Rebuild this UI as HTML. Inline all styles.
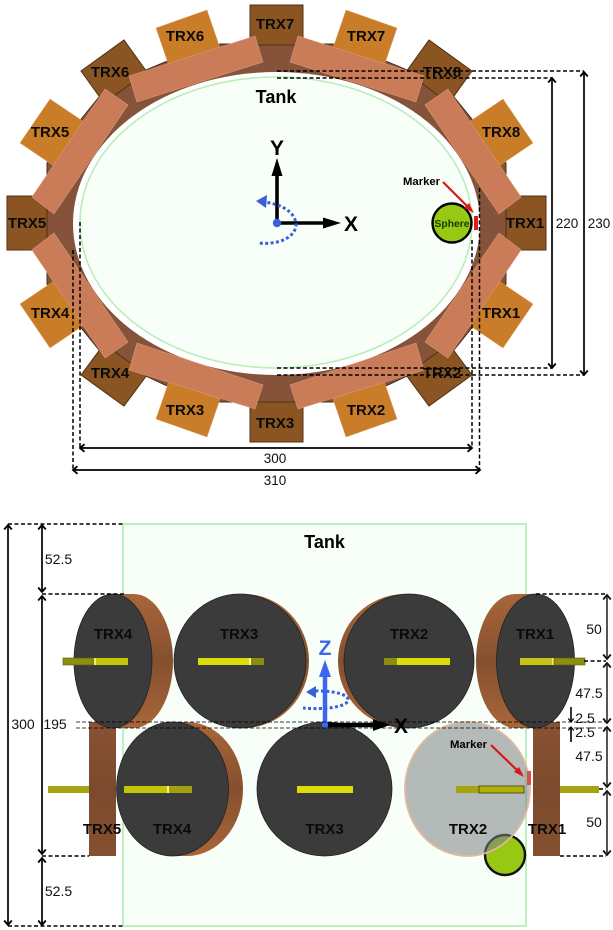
<!DOCTYPE html>
<html>
<head>
<meta charset="utf-8">
<style>
html,body{margin:0;padding:0;background:#fff;}
svg{display:block;filter:blur(.35px);}
text{font-family:"Liberation Sans",sans-serif;fill:#000;}
.l{font-weight:bold;font-size:15px;text-anchor:middle;fill:#0a0a0a;}
.d{font-size:14px;text-anchor:middle;fill:#111;}
.t{font-size:13.5px;text-anchor:middle;fill:#111;}
.dim{stroke:#000;stroke-width:1.7;fill:none;marker-start:url(#ah);marker-end:url(#ah);}
.dg{stroke:#555;stroke-width:2;fill:none;marker-start:url(#ag);marker-end:url(#ag);}
.ds{stroke:#000;stroke-width:1.5;fill:none;stroke-dasharray:4 2.5;}
.dt{stroke:#000;stroke-width:.7;fill:none;stroke-dasharray:4 2;}
.dk{fill:#8a5522;stroke:#4f3115;stroke-width:1;}
.or{fill:#c97d28;stroke:#e0a060;stroke-width:.5;}
.bar{fill:#c97c57;stroke:#d9977a;stroke-width:.6;}
.face{fill:#3b3b3b;stroke:#222;stroke-width:.8;}
</style>
</head>
<body>
<svg width="613" height="930" viewBox="0 0 613 930" xmlns="http://www.w3.org/2000/svg">
<defs>
<marker id="ah" viewBox="-9 -6 18 12" markerWidth="18" markerHeight="12" markerUnits="userSpaceOnUse" orient="auto-start-reverse" refX="0" refY="0">
<path d="M-4.5 -3.8 L0 0 L-4.500 3.8" fill="none" stroke="#000" stroke-width="1.8"/>
</marker>
<marker id="ag" viewBox="-9 -6 18 12" markerWidth="18" markerHeight="12" markerUnits="userSpaceOnUse" orient="auto-start-reverse" refX="0" refY="0">
<path d="M-4.5 -3.8 L0 0 L-4.500 3.8" fill="none" stroke="#111" stroke-width="1.8"/>
</marker>
<marker id="as" viewBox="-9 -6 18 12" markerWidth="14" markerHeight="10" markerUnits="userSpaceOnUse" orient="auto" refX="0" refY="0">
<path d="M-4.5 -3.5 L0 0 L-4.500 3.5" fill="none" stroke="#000" stroke-width="1.6"/>
</marker>
<linearGradient id="sideg" x1="0" y1="0" x2="0" y2="1">
<stop offset="0" stop-color="#a9663a"/><stop offset=".5" stop-color="#85502f"/><stop offset="1" stop-color="#a9663a"/>
</linearGradient>
<linearGradient id="rectg" x1="0" y1="0" x2="0" y2="1">
<stop offset="0" stop-color="#8a5233"/><stop offset=".5" stop-color="#7c4a2e"/><stop offset="1" stop-color="#84502f"/>
</linearGradient>
</defs>

<!-- TOP VIEW -->
<polygon points="220,44 333,44 388,62 407,70 454,97 471,118 506,163 506,284 471,329 454,350 407,376 388,385 333,402 220,402 165,385 146,376 99,350 82,329 47,284 47,163 82,118 99,97 146,70 165,62" fill="#85533a" stroke="#4a2e1a" stroke-width="1"/>

<rect x="250" y="5" width="53" height="40" class="dk"/>
<rect x="250" y="402" width="53" height="40" class="dk"/>
<rect x="7" y="196" width="40" height="54" class="dk"/>
<rect x="506" y="196" width="40" height="54" class="dk"/>
<polygon points="81,71 124,40 147,72 104,103" class="dk"/>
<polygon points="472,71 429,40 406,72 449,103" class="dk"/>
<polygon points="81,375 124,406 147,375 104,344" class="dk"/>
<polygon points="472,375 429,406 406,375 449,344" class="dk"/>

<polygon points="156,28 207,10 220,48 169,66" class="or"/>
<polygon points="397,28 346,10 333,48 384,66" class="or"/>
<polygon points="156,419 207,437 220,399 169,381" class="or"/>
<polygon points="397,419 346,437 333,399 384,381" class="or"/>
<polygon points="20,143 50,99 84,122 54,166" class="or"/>
<polygon points="533,143 503,99 469,122 499,166" class="or"/>
<polygon points="20,304 50,348 84,325 54,281" class="or"/>
<polygon points="533,304 503,348 469,325 499,281" class="or"/>

<ellipse cx="276.5" cy="223.5" rx="203.5" ry="151.5" fill="#fff"/>

<polygon points="129,76 255,36 263,62 137,102" class="bar"/>
<polygon points="424,76 298,36 290,62 416,102" class="bar"/>
<polygon points="137,343 263,385 255,409 129,370" class="bar"/>
<polygon points="416,343 290,385 298,409 424,370" class="bar"/>
<polygon points="105,89 128,105 54,214 32,197" class="bar"/>
<polygon points="448,89 425,105 499,214 521,197" class="bar"/>
<polygon points="105,358 128,342 54,233 32,250" class="bar"/>
<polygon points="448,358 425,342 499,233 521,250" class="bar"/>

<ellipse cx="276" cy="222.5" rx="196" ry="145.5" fill="#f8fff8" stroke="#b8eeb8" stroke-width="1.6"/>

<text x="275" y="29" class="l">TRX7</text>
<text x="185" y="41" class="l">TRX6</text>
<text x="110" y="77" class="l">TRX6</text>
<text x="50" y="137" class="l">TRX5</text>
<text x="27" y="228" class="l">TRX5</text>
<text x="366" y="41" class="l">TRX7</text>
<text x="442" y="77" class="l">TRX8</text>
<text x="501" y="137" class="l">TRX8</text>
<text x="525" y="228" class="l">TRX1</text>
<text x="50" y="318" class="l">TRX4</text>
<text x="110" y="378" class="l">TRX4</text>
<text x="185" y="415" class="l">TRX3</text>
<text x="275" y="428" class="l">TRX3</text>
<text x="501" y="318" class="l">TRX1</text>
<text x="442" y="378" class="l">TRX2</text>
<text x="366" y="415" class="l">TRX2</text>

<text x="276" y="103" text-anchor="middle" style="font-weight:bold;font-size:18px">Tank</text>

<!-- axes top -->
<path d="M277 223 V172" stroke="#000" stroke-width="3.6" fill="none"/>
<polygon points="277,158 271.500,176 282.500,176" fill="#000"/>
<text x="277" y="155" text-anchor="middle" style="font-weight:bold;font-size:21px">Y</text>
<path d="M277 223 H326" stroke="#000" stroke-width="3.6" fill="none"/>
<polygon points="341,223 323,217.500 323,228.500" fill="#000"/>
<text x="351" y="231" text-anchor="middle" style="font-weight:bold;font-size:21px">X</text>
<path d="M262 202 C 280 203 296 212 296 225 C 295 238 278 245 258 243" fill="none" stroke="#3a5fd8" stroke-width="3" stroke-dasharray="3 2.4"/>
<polygon points="256,201 267,195 266,208" fill="#3a5fd8"/>
<circle cx="277" cy="223" r="4.2" fill="#3a5fe0"/>

<!-- sphere top -->
<circle cx="452" cy="223" r="19.5" fill="#96c814" stroke="#000" stroke-width="2.4"/>
<text x="452" y="227" text-anchor="middle" style="font-weight:bold;font-size:10.3px;fill:#143c00">Sphere</text>
<rect x="474" y="216" width="4" height="14" fill="#e21a1a"/>
<text x="403" y="185" style="font-weight:bold;font-size:11.3px">Marker</text>
<path d="M443 182 L471 210" stroke="#d81818" stroke-width="2.2" fill="none"/>
<polygon points="474,213 464,208 469,203" fill="#d81818"/>

<!-- dims top -->
<path d="M277 71 H584 M277 78 H552 M277 375 H584 M277 368 H552 M80 222 V448 M73 250 V470 M472 240 V448 M479.500 188 V470" class="ds"/>
<path d="M552 78 V368" class="dim"/>
<path d="M584 72 V375" class="dim"/>
<path d="M80 448 H472" class="dim"/>
<path d="M73 470 H480" class="dim"/>
<text x="567" y="228" class="t">220</text>
<text x="599" y="228" class="t">230</text>
<text x="275" y="463" class="t">300</text>
<text x="275" y="485" class="t">310</text>

<!-- BOTTOM VIEW -->
<rect x="123" y="524" width="403" height="402" fill="#f8fff8" stroke="#bfeebf" stroke-width="2"/>
<text x="324.500" y="548" text-anchor="middle" style="font-weight:bold;font-size:18px">Tank</text>

<rect x="89" y="722" width="27" height="134" fill="url(#rectg)"/>
<rect x="533" y="722" width="27" height="134" fill="url(#rectg)"/>

<!-- top row -->
<path d="M113 594 H134 A39 67 0 0 1 134 728 H113 Z" fill="url(#sideg)"/>
<ellipse cx="113" cy="661" rx="39" ry="67" class="face"/>
<ellipse cx="244" cy="661" rx="65" ry="67" fill="url(#sideg)"/>
<ellipse cx="240" cy="661" rx="66" ry="67" class="face"/>
<ellipse cx="405" cy="661" rx="67" ry="67" fill="url(#sideg)"/>
<ellipse cx="409" cy="661" rx="65" ry="67" class="face"/>
<path d="M535.500 594 H515 A39 67 0 0 0 515 728 H535.500 Z" fill="url(#sideg)"/>
<ellipse cx="535.500" cy="661" rx="39" ry="67" class="face"/>

<!-- yellow top -->
<rect x="63" y="658" width="31" height="7" fill="#8e8e12" stroke="#5a5a08" stroke-width=".6"/>
<rect x="94" y="658" width="34" height="7" fill="#c4c408"/>
<rect x="94" y="658" width="2" height="7" fill="#f0f060"/>
<rect x="198" y="658" width="53" height="7" fill="#dcdc08"/>
<rect x="249" y="658" width="2" height="7" fill="#f5f580"/>
<rect x="251" y="658" width="13" height="7" fill="#8c8c10"/>
<rect x="384" y="658" width="13" height="7" fill="#8c8c10"/>
<rect x="397" y="658" width="53" height="7" fill="#dcdc08"/>
<rect x="520" y="658" width="34" height="7" fill="#c4c414"/>
<rect x="552" y="658" width="2" height="7" fill="#f0f060"/>
<rect x="554" y="658" width="31" height="7" fill="#8e8e12" stroke="#5a5a08" stroke-width=".6"/>

<!-- bottom row -->
<path d="M172.500 722 H187 A56 67 0 0 1 187 856 H172.500 Z" fill="url(#sideg)"/>
<ellipse cx="172.500" cy="789" rx="56" ry="67" class="face"/>
<ellipse cx="324.500" cy="789" rx="67.500" ry="67" class="face"/>

<circle cx="505" cy="855" r="20" fill="#96c814" stroke="#111" stroke-width="2.4"/>
<ellipse cx="467.500" cy="789" rx="62.500" ry="67" fill="#7c8284" fill-opacity=".55"/>
<ellipse cx="467.500" cy="789" rx="62.500" ry="67" fill="none" stroke="#e2b8a0" stroke-width="1.8"/>

<!-- yellow bottom -->
<rect x="48" y="786" width="41" height="7" fill="#a4a410"/>
<rect x="124" y="786" width="44" height="7" fill="#c4c408"/>
<rect x="167" y="786" width="2" height="7" fill="#f5f580"/>
<rect x="169" y="786" width="23" height="7" fill="#a0a010"/>
<rect x="297" y="786" width="56" height="7" fill="#dcdc08"/>
<rect x="456" y="786" width="23" height="7" fill="#a4a410"/>
<rect x="479" y="786" width="45" height="7" fill="#b0b008" stroke="#3c3c08" stroke-width=".8"/>
<rect x="560" y="786" width="39" height="7" fill="#a4a410"/>

<!-- marker bottom -->
<rect x="527" y="771" width="4" height="14" fill="#d85050"/>
<text x="450" y="748" style="font-weight:bold;font-size:11.3px">Marker</text>
<path d="M491 745 L521 774" stroke="#d81818" stroke-width="2.2" fill="none"/>
<polygon points="524,777 514,772 519,767" fill="#d81818"/>

<!-- axes bottom -->
<path d="M325 725 V675" stroke="#3a66f0" stroke-width="4.5" fill="none"/>
<polygon points="325,660 319,677 331,677" fill="#3a66f0"/>
<text x="325" y="655" text-anchor="middle" style="font-weight:bold;font-size:21px;fill:#3a66f0">Z</text>
<path d="M325 725 H376" stroke="#000" stroke-width="4.5" fill="none"/>
<polygon points="390,725 373,719 373,731" fill="#000"/>
<text x="401" y="733" text-anchor="middle" style="font-weight:bold;font-size:21px">X</text>
<path d="M310 691 C 335 690 350 695 348 701 C 345 707 325 710 303 708" fill="none" stroke="#3a5fd8" stroke-width="3" stroke-dasharray="3 2.4"/>
<polygon points="306,692 316,686 316,698" fill="#3a5fd8"/>
<circle cx="325" cy="725" r="3.2" fill="#3a66f0"/>

<!-- labels bottom -->
<text x="113" y="639" class="l">TRX4</text>
<text x="239" y="639" class="l">TRX3</text>
<text x="409" y="639" class="l">TRX2</text>
<text x="535" y="639" class="l">TRX1</text>
<text x="102" y="834" class="l">TRX5</text>
<text x="172" y="834" class="l">TRX4</text>
<text x="324.500" y="834" class="l">TRX3</text>
<text x="468" y="834" class="l">TRX2</text>
<text x="547" y="834" class="l">TRX1</text>

<!-- dims bottom -->
<path d="M8 524 H123 M42 594 H125 M536 594 H606 M584 661 H606 M599 789 H606 M42 856 H89 M560 856 H606 M8 926 H123" class="ds"/>
<path d="M76 722 H606 M76 728 H606" class="dt"/>
<path d="M8 525 V925" class="dim"/>
<path d="M42 525 V592" class="dim"/>
<path d="M42 596 V854" class="dim"/>
<path d="M42 858 V925" class="dim"/>
<path d="M607 595 V659" class="dg"/>
<path d="M607 663 V723" class="dg"/>
<path d="M607 727 V787" class="dg"/>
<path d="M607 791 V855" class="dg"/>
<path d="M571 707 V722" stroke="#000" stroke-width="1.6" fill="none" marker-end="url(#as)"/>
<path d="M571 742 V727" stroke="#000" stroke-width="1.6" fill="none" marker-end="url(#as)"/>

<rect x="10" y="716" width="30" height="16" fill="#fff"/>
<rect x="44" y="716" width="24" height="16" fill="#fff"/>
<text x="23" y="729" class="d">300</text>
<text x="55" y="729" class="d">195</text>
<text x="58.500" y="564" class="d">52.5</text>
<text x="58.500" y="896" class="d">52.5</text>
<text x="594" y="634" class="d">50</text>
<text x="589" y="698" class="d">47.5</text>
<text x="585" y="723" class="d">2.5</text>
<text x="585" y="737" class="d">2.5</text>
<text x="589" y="761" class="d">47.5</text>
<text x="594" y="827" class="d">50</text>
</svg>
</body>
</html>
